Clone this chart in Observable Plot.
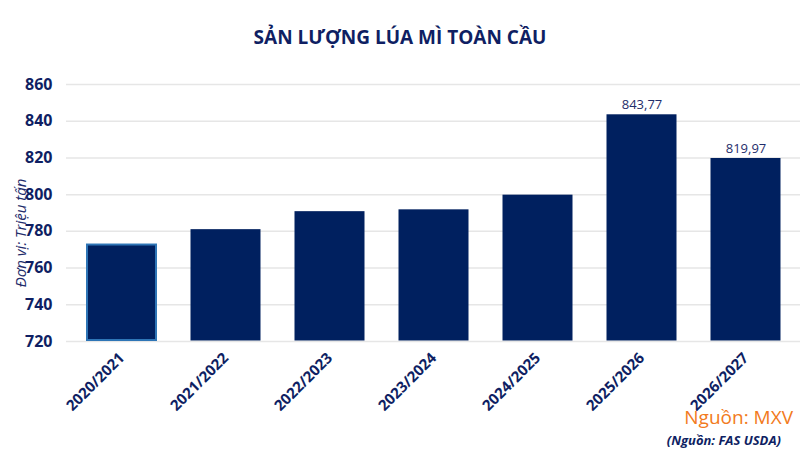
<!DOCTYPE html>
<html><head><meta charset="utf-8">
<script src="https://cdn.jsdelivr.net/npm/d3@7"></script>
<script src="https://cdn.jsdelivr.net/npm/@observablehq/plot@0.6"></script>
<style>
body{margin:0;background:#fff;font-family:"Open Sans",sans-serif;}
#wrap{position:relative;width:800px;height:467px;overflow:hidden;}
#title{height:60px;line-height:74px;text-align:center;font-weight:700;font-size:19px;color:#0f1f63;}
#src1{position:absolute;right:7px;top:405px;font-size:19px;line-height:24px;color:#f27a20;}
#src2{position:absolute;right:19px;top:431px;font-size:13px;line-height:18px;font-weight:700;font-style:italic;color:#0f1f63;}
#ylab{position:absolute;left:20px;top:233px;transform:translate(-50%,-50%) rotate(-90deg);white-space:nowrap;font-size:15px;font-style:italic;color:#1f2d6b;}
</style></head>
<body><div id="wrap"><div id="title">SẢN LƯỢNG LÚA MÌ TOÀN CẦU</div><div id="chart"></div>
<div id="ylab">Đơn vị: Triệu tấn</div>
<div id="src1">Nguồn: MXV</div><div id="src2">(Nguồn: FAS USDA)</div></div>
<script>
const seasons = ["2020/2021","2021/2022","2022/2023","2023/2024","2024/2025","2025/2026","2026/2027"];
const production = [773.1, 781.2, 791.0, 792.0, 800.0, 843.77, 819.97];
const labelled = ["2025/2026","2026/2027"];
const yTicks = [720, 740, 760, 780, 800, 820, 840, 860];

const data = seasons.map((s, i) => ({season: s, value: production[i]}));
const navy = "#0f1f63";

const chart = Plot.plot({
  width: 800,
  height: 407,
  marginLeft: 66,
  marginRight: 0,
  marginTop: 24,
  marginBottom: 126,
  style: {fontFamily: "Open Sans, sans-serif", color: navy, background: "transparent"},
  x: {domain: seasons, paddingInner: 0.32, paddingOuter: 0.16, label: null},
  y: {domain: [720, 860], label: null},
  marks: [
    Plot.ruleY(yTicks, {stroke: "#e6e6e6", strokeWidth: 1.5}),
    Plot.barY(data.filter(d => d.season !== "2020/2021"), {x: "season", y1: 720, y2: "value", fill: "#00205f", inset: 0.5}),
    Plot.barY(data.filter(d => d.season === "2020/2021"), {x: "season", y1: 720, y2: "value", fill: "#00205f",
      stroke: "#2e75b6", strokeWidth: 2, inset: 1}),
    Plot.text(data.filter(d => labelled.includes(d.season)), {x: "season", y: "value",
      text: d => d.value.toFixed(2).replace(".", ","), dy: -9, fontSize: 13, fill: "#1f2d6b"}),
    Plot.axisY({ticks: yTicks, tickSize: 0, tickPadding: 14, fontSize: 16, fontWeight: 700, fill: navy, label: null}),
    Plot.axisX({tickSize: 0, tickRotate: -45, tickPadding: 14, fontSize: 15, fontWeight: 700, fill: navy, label: null})
  ]
});
document.getElementById("chart").appendChild(chart);
</script></body></html>
